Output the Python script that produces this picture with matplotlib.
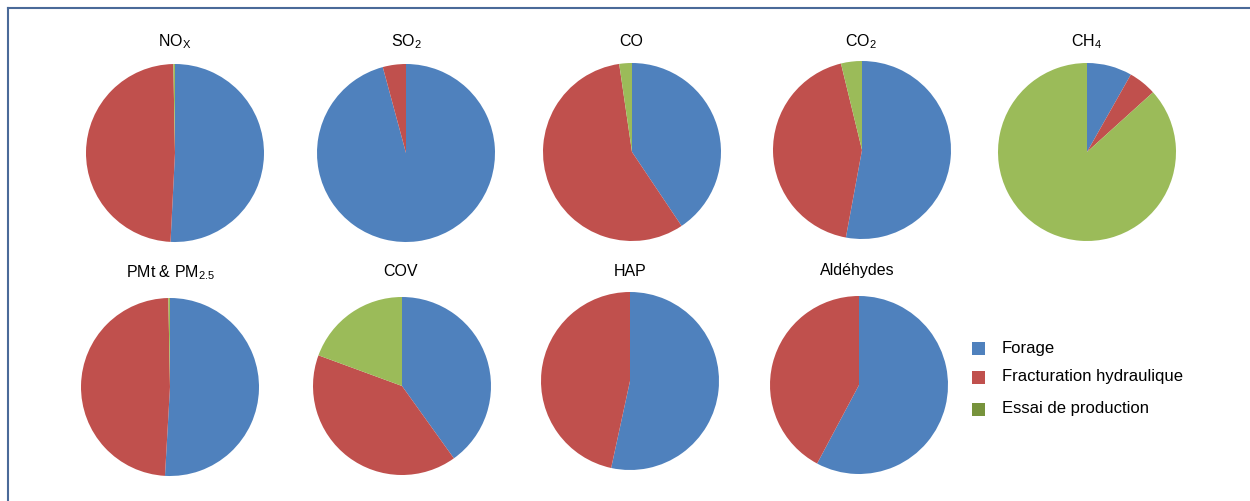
import matplotlib
matplotlib.use("Agg")
import matplotlib.pyplot as plt
from matplotlib.patches import Rectangle
from matplotlib.lines import Line2D

plt.rcParams['font.family'] = ['Liberation Sans', 'DejaVu Sans']
plt.rcParams['mathtext.fontset'] = 'custom'
plt.rcParams['mathtext.rm'] = 'Liberation Sans'

# ---- data ----
pollutants = [r'NO$_\mathregular{X}$', r'SO$_\mathregular{2}$', 'CO', r'CO$_\mathregular{2}$',
              r'CH$_\mathregular{4}$', r'PMt & PM$_\mathregular{2.5}$', 'COV', 'HAP', 'Aldéhydes']
series = ['Forage', 'Fracturation hydraulique', 'Essai de production']
forage        = [50.8, 95.8, 40.6, 52.9,  8.2, 50.9, 40.1, 53.4, 57.8]
fracturation  = [48.9,  4.2, 57.1, 43.3,  5.1, 48.8, 40.5, 46.6, 42.2]
essai         = [ 0.3,  0.0,  2.3,  3.8, 86.7,  0.3, 19.4,  0.0,  0.0]

pie_colors = ['#4F81BD', '#C0504D', '#9BBB59']
legend_colors = ['#4F81BD', '#C0504D', '#77933C']

W, H = 1250, 501
fig = plt.figure(figsize=(W / 100, H / 100), dpi=100)

# layout (pixel centers)
centers = [(175, 153), (406, 153), (632, 152), (862, 150), (1087, 152),
           (170, 387), (402, 386), (630, 381), (859, 385)]
title_pos = [(175, 42), (406, 42), (631, 42), (861, 42), (1087, 42),
             (171, 273), (401, 272), (630, 272), (857, 270)]
R = 89

for i, (cx, cy) in enumerate(centers):
    ax = fig.add_axes([(cx - R) / W, 1 - (cy + R) / H, 2 * R / W, 2 * R / H])
    vals = [forage[i], fracturation[i], essai[i]]
    ax.pie(vals, colors=pie_colors, startangle=90, counterclock=False,
           wedgeprops=dict(linewidth=0), radius=1)
    ax.set_xlim(-1, 1)
    ax.set_ylim(-1, 1)
    ax.set_aspect('auto')
    ax.axis('off')
    tx, ty = title_pos[i]
    fig.text(tx / W, 1 - ty / H, pollutants[i], ha='center', va='center',
             fontsize=11.5, color='#000000')

# legend
leg_y = [348, 377, 409]
for j, name in enumerate(series):
    fig.patches.append(Rectangle(((972) / W, 1 - (leg_y[j] + 6.5) / H), 13 / W, 13 / H,
                                 transform=fig.transFigure, facecolor=legend_colors[j],
                                 edgecolor='none'))
    fig.text(1002 / W, 1 - leg_y[j] / H, name, ha='left', va='center',
             fontsize=12, color='#000000')

# frame
frame_c = '#4A6A99'
fig.add_artist(Line2D([7.5 / W, 7.5 / W], [0, 1 - 7.5 / H], transform=fig.transFigure,
                      color=frame_c, lw=1.5))
fig.add_artist(Line2D([7.5 / W, 1], [1 - 7.5 / H, 1 - 7.5 / H], transform=fig.transFigure,
                      color=frame_c, lw=1.5))

fig.savefig('out.png', dpi=100, facecolor='white')
